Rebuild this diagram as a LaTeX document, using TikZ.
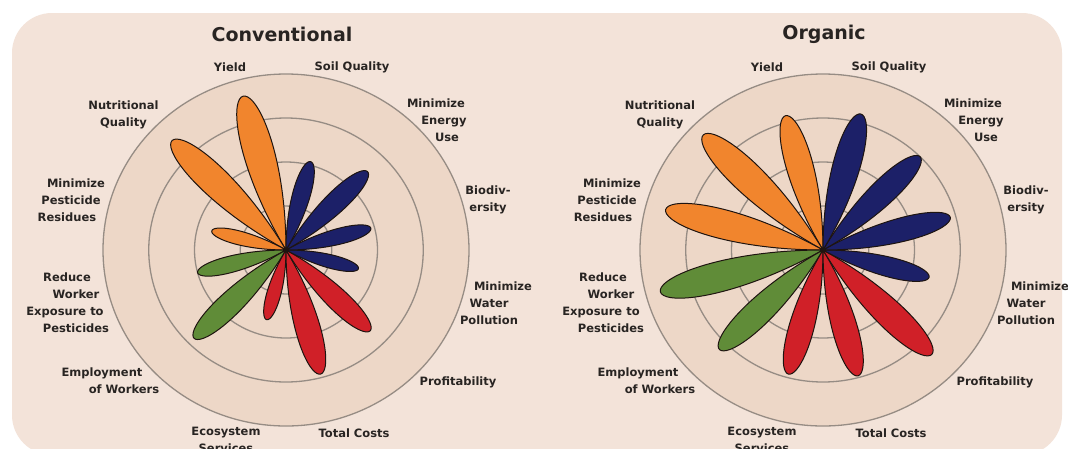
\documentclass[tikz,border=0pt]{standalone}
\usepackage{fontspec}
\setmainfont{DejaVu Sans}
\definecolor{bgpeach}{RGB}{243,227,217}
\definecolor{discfill}{RGB}{237,215,199}
\definecolor{ringgray}{RGB}{150,140,132}
\definecolor{labc}{RGB}{40,36,34}
\definecolor{po}{RGB}{241,133,45}
\definecolor{pb}{RGB}{28,32,104}
\definecolor{pg}{RGB}{96,140,56}
\definecolor{pr}{RGB}{208,32,40}
\definecolor{pline}{RGB}{30,20,16}
\newcommand\Ls[2]{\makebox[0pt]{\hspace*{#1pt}\hspace*{#1pt}#2}}
\newcommand\petal[3]{\filldraw[petalline, fill=#1] plot[domain=-15:15, samples=41, smooth] ({#2+\x}:{#3*cos(6*\x)}) -- cycle;}
\begin{document}
\begin{tikzpicture}[x=1pt, y=-1pt,
  lab/.style={font=\fontsize{11.5}{17}\selectfont\bfseries, text=labc, align=center, inner sep=0pt},
  ttl/.style={font=\fontsize{19}{22}\selectfont\bfseries, text=labc, inner sep=0pt},
  ring/.style={draw=ringgray, line width=1.3pt},
  petalline/.style={draw=pline, line width=1pt, line join=round}]
\useasboundingbox (0,0) rectangle (1068,448);
\clip (0,0) rectangle (1068,448);
\fill[white] (0,0) rectangle (1068,448);
\fill[bgpeach, rounded corners=40pt] (12,13) rectangle (1062,455);
\coordinate (c1) at (286,250);
\coordinate (c2) at (823,250);
\foreach \c in {c1,c2} {
  \fill[discfill] (\c) ellipse [x radius=183pt, y radius=176pt];
  \foreach \f in {1,0.75,0.5,0.25}
    \draw[ring] (\c) ellipse [x radius=\f*183pt, y radius=\f*176pt];
}
% Conventional petals
\begin{scope}[shift={(c1)}, x=183pt, y=176pt]
  \petal{po}{105}{0.905}
  \petal{po}{135}{0.88}
  \petal{po}{165}{0.42}
  \petal{pg}{195}{0.50}
  \petal{pg}{225}{0.71}
  \petal{pr}{255}{0.41}
  \petal{pr}{285}{0.73}
  \petal{pr}{315}{0.65}
  \petal{pb}{345}{0.41}
  \petal{pb}{15}{0.48}
  \petal{pb}{45}{0.63}
  \petal{pb}{75}{0.52}
\end{scope}
% Organic petals
\begin{scope}[shift={(c2)}, x=183pt, y=176pt]
  \petal{po}{105}{0.79}
  \petal{po}{135}{0.925}
  \petal{po}{165}{0.89}
  \petal{pg}{195}{0.92}
  \petal{pg}{225}{0.80}
  \petal{pr}{255}{0.73}
  \petal{pr}{285}{0.74}
  \petal{pr}{315}{0.84}
  \petal{pb}{345}{0.60}
  \petal{pb}{15}{0.72}
  \petal{pb}{45}{0.75}
  \petal{pb}{75}{0.80}
\end{scope}
% Conventional labels
\node[ttl] (t1) at (282,34) {Conventional};
\node[lab] (a1) at (230,67) {Yield};
\node[lab] (a2) at (352,67) {Soil Quality};
\node[lab] (a3) at (442,120) {\Ls{-6}{Minimize}\\\Ls{2}{Energy}\\\Ls{5}{Use}};
\node[lab] (a4) at (488,200) {Biodiv-\\ersity};
\node[lab] (a5) at (494,303) {\Ls{9}{Minimize}\\\Ls{-5}{Water}\\\Ls{-5}{Pollution}};
\node[lab] (a6) at (458,382) {Profitability};
\node[lab] (a7) at (354,433) {Total Costs};
\node[lab] (a8) at (226,440) {Ecosystem\\Services};
\node[lab] (a9) at (113,381) {\Ls{-11}{Employment}\\\Ls{11}{of Workers}};
\node[lab] (a10) at (71,303) {\Ls{-4}{Reduce}\\\Ls{5}{Worker}\\\Ls{-6}{Exposure to}\\\Ls{5}{Pesticides}};
\node[lab] (a11) at (71,200) {\Ls{5}{Minimize}\\\Ls{0}{Pesticide}\\\Ls{-4}{Residues}};
\node[lab] (a12) at (123.5,114.5) {Nutritional\\Quality};
% Organic labels
\node[ttl] (t2) at (824,34) {Organic};
\node[lab] (b1) at (767,67) {Yield};
\node[lab] (b2) at (889,67) {Soil Quality};
\node[lab] (b3) at (980,120) {\Ls{-7}{Minimize}\\\Ls{1}{Energy}\\\Ls{6}{Use}};
\node[lab] (b4) at (1026,200) {Biodiv-\\ersity};
\node[lab] (b5) at (1031,303) {\Ls{9}{Minimize}\\\Ls{-5}{Water}\\\Ls{-5}{Pollution}};
\node[lab] (b6) at (995,382) {Profitability};
\node[lab] (b7) at (891,433) {Total Costs};
\node[lab] (b8) at (762,440) {Ecosystem\\Services};
\node[lab] (b9) at (649,381) {\Ls{-11}{Employment}\\\Ls{11}{of Workers}};
\node[lab] (b10) at (606.5,303) {\Ls{-3.5}{Reduce}\\\Ls{4.5}{Worker}\\\Ls{-5.5}{Exposure to}\\\Ls{4.5}{Pesticides}};
\node[lab] (b11) at (607,200) {\Ls{5}{Minimize}\\\Ls{0}{Pesticide}\\\Ls{-4}{Residues}};
\node[lab] (b12) at (660,114.5) {Nutritional\\Quality};
\end{tikzpicture}
\end{document}
